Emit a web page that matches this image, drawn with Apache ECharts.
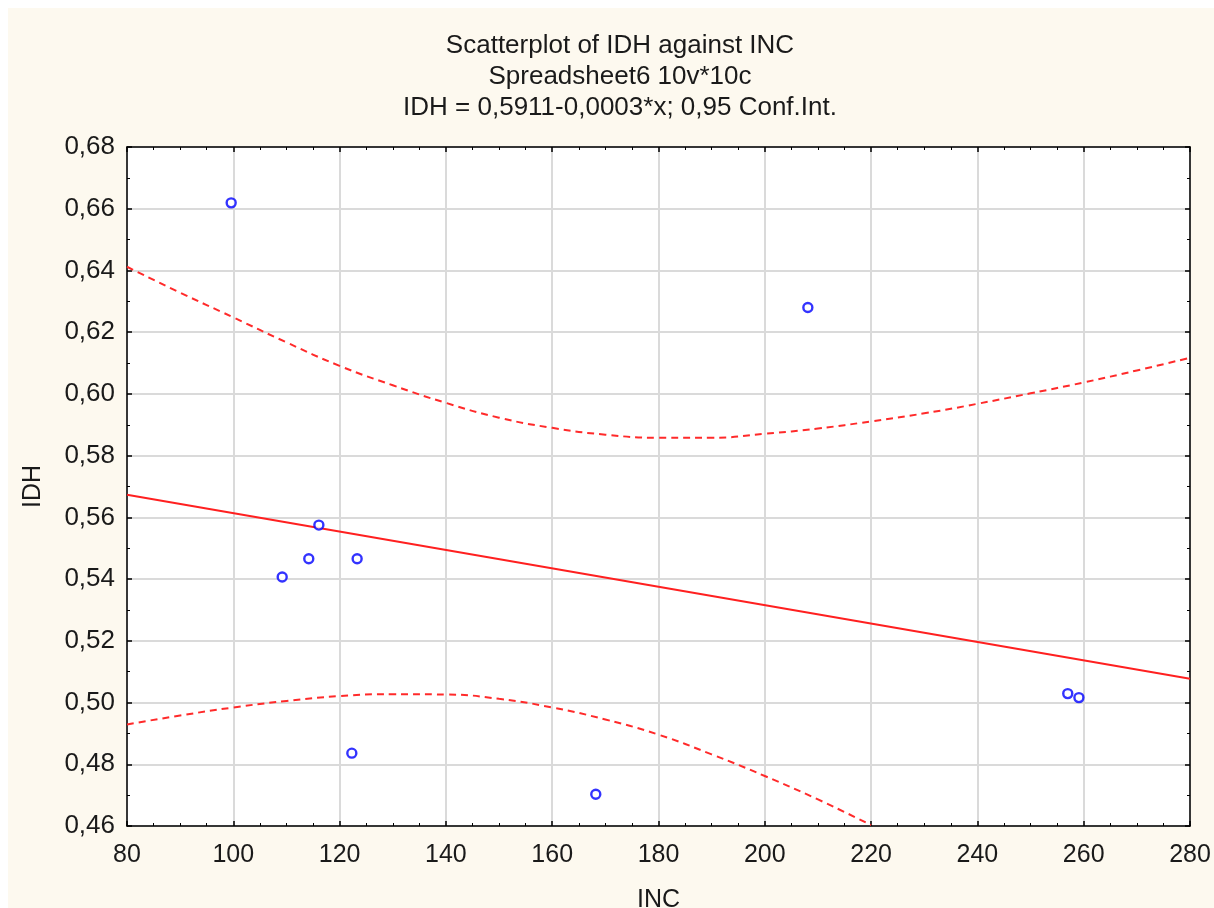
<!DOCTYPE html>
<html lang="en">
<head>
	<meta charset="UTF-8">
	<title>Scatterplot of IDH against INC</title>
	<script src="https://cdn.jsdelivr.net/npm/echarts@6/dist/echarts.min.js"></script>
	<style>
		html, body { margin: 0; padding: 0; background: #fff; }
	</style>
</head>
<body>

	<div id="chart" style="width: 1214px;height: 908px;"></div>

<script type="text/javascript">
// observed points (INC, IDH)
var incValues = [99.6, 208.1, 116.1, 114.2, 123.3, 109.2, 122.3, 168.2, 257.0, 259.1];
var idhValues = [0.6619, 0.628, 0.5575, 0.5466, 0.5466, 0.5407, 0.4836, 0.4703, 0.5029, 0.5016];

// fitted line end points
var fitX = [80, 280];
var fitY = [0.5673, 0.5077];

// 0,95 confidence band
var bandX = [80, 90, 100, 110, 120, 130, 140, 150, 160, 170, 180, 190, 200, 210, 220, 230, 240, 250, 260, 270, 280];
var upperY = [0.6412, 0.6328, 0.6248, 0.6167, 0.6091, 0.6028, 0.5971, 0.5923, 0.5890, 0.5868, 0.5858,
              0.5858, 0.5871, 0.5888, 0.5911, 0.5937, 0.5968, 0.6002, 0.6037, 0.6076, 0.6117];
var lowerX = [80, 90, 100, 110, 120, 130, 140, 150, 160, 170, 180, 190, 200, 210, 220];
var lowerY = [0.4929, 0.4958, 0.4984, 0.5005, 0.5021, 0.5027, 0.5026, 0.5012, 0.4984, 0.4945, 0.4896,
              0.4832, 0.4762, 0.4686, 0.4603];

function pairs(xs, ys) {
    var out = [];
    for (var i = 0; i < xs.length; i++) out.push([xs[i], ys[i]]);
    return out;
}

var font = 'Arimo, "Liberation Sans", Arial, sans-serif';
var txt = '#1a1a1a';
var chart = echarts.init(document.getElementById('chart'));

var xBase = {
    type: 'value', min: 80, max: 280, interval: 20,
    axisLine: { show: true, onZero: false, lineStyle: { color: '#000', width: 1.5 } },
    axisTick: { show: true, inside: true, length: 5, lineStyle: { color: '#000', width: 1.5 } },
    minorTick: { show: true, splitNumber: 4, length: 3, lineStyle: { color: '#000', width: 1 } },
    splitLine: { show: false }
};
var yBase = {
    type: 'value', min: 0.46, max: 0.68, interval: 0.02,
    axisLine: { show: true, onZero: false, lineStyle: { color: '#000', width: 1.5 } },
    axisTick: { show: true, inside: true, length: 5, lineStyle: { color: '#000', width: 1.5 } },
    minorTick: { show: true, splitNumber: 2, length: 3, lineStyle: { color: '#000', width: 1 } },
    splitLine: { show: false }
};

var option = {
    backgroundColor: '#ffffff',
    animation: false,
    graphic: [{
        type: 'rect', z: -10, silent: true,
        shape: { x: 8, y: 8, width: 1206, height: 900 },
        style: { fill: '#fdf9ef' }
    }],
    title: {
        text: 'Scatterplot of IDH against INC\nSpreadsheet6 10v*10c\nIDH = 0,5911-0,0003*x; 0,95 Conf.Int.',
        left: 615, top: 25, textAlign: 'center',
        textStyle: { fontFamily: font, fontSize: 26, fontWeight: 'normal', color: txt, lineHeight: 31 }
    },
    grid: {
        left: 127, right: 24, top: 147, bottom: 82,
        outerBoundsMode: 'none', containLabel: false,
        show: true, backgroundColor: '#ffffff', borderWidth: 0
    },
    xAxis: [
        Object.assign({}, xBase, {
            position: 'bottom',
            name: 'INC', nameLocation: 'middle', nameGap: 62,
            nameTextStyle: { fontFamily: font, fontSize: 25, color: txt },
            axisLabel: { fontFamily: font, fontSize: 25, color: txt, margin: 17 },
            splitLine: { show: true, lineStyle: { color: '#dadada', width: 2 } }
        }),
        Object.assign({}, xBase, { position: 'top', axisLabel: { show: false } })
    ],
    yAxis: [
        Object.assign({}, yBase, {
            position: 'left',
            name: 'IDH', nameLocation: 'middle', nameGap: 81,
            nameTextStyle: { fontFamily: font, fontSize: 25, color: txt },
            axisLabel: {
                fontFamily: font, fontSize: 26, color: txt, margin: 12,
                formatter: function (v) { return v.toFixed(2).replace('.', ','); }
            },
            splitLine: { show: true, lineStyle: { color: '#dadada', width: 2 } }
        }),
        Object.assign({}, yBase, { position: 'right', axisLabel: { show: false } })
    ],
    series: [
        {
            name: 'upper', type: 'line', data: pairs(bandX, upperY), smooth: true,
            showSymbol: false, symbol: 'none',
            lineStyle: { color: '#ff2a2a', width: 2, type: [7, 5] }, z: 2
        },
        {
            name: 'lower', type: 'line', data: pairs(lowerX, lowerY), smooth: true,
            showSymbol: false, symbol: 'none',
            lineStyle: { color: '#ff2a2a', width: 2, type: [7, 5] }, z: 2
        },
        {
            name: 'fit', type: 'line', data: pairs(fitX, fitY),
            showSymbol: false, symbol: 'none',
            lineStyle: { color: '#ff2020', width: 2 }, z: 3
        },
        {
            name: 'IDH', type: 'scatter', data: pairs(incValues, idhValues),
            symbol: 'circle', symbolSize: 9,
            itemStyle: { color: '#ffffff', borderColor: '#0000ff', borderWidth: 2.4 }, z: 4
        }
    ]
};
chart.setOption(option);
</script>
</body>
</html>
